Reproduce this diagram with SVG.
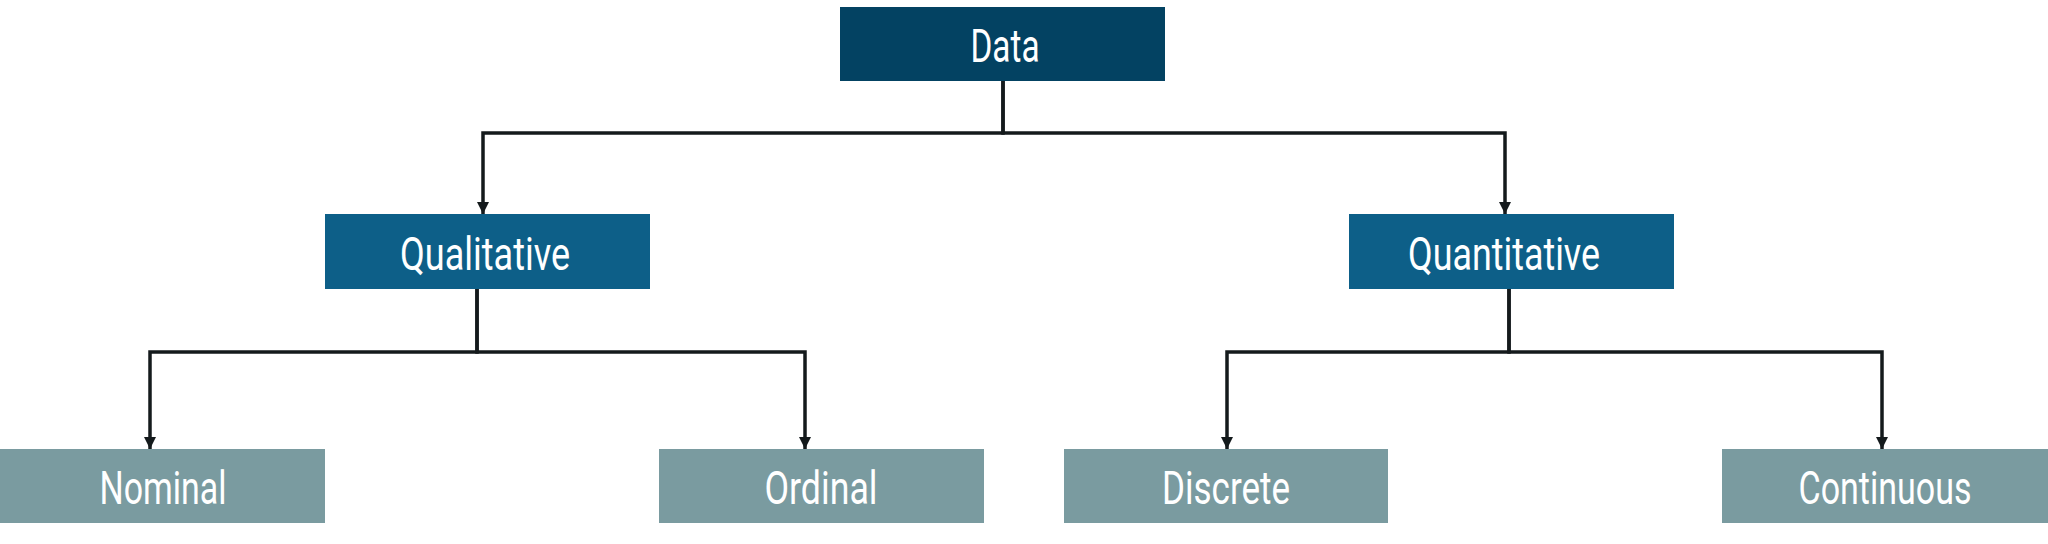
<svg xmlns="http://www.w3.org/2000/svg" width="2048" height="544" viewBox="0 0 2048 544">
<style>
.t{font-family:"Roboto","Liberation Sans",sans-serif;font-size:46px;fill:#ffffff;text-anchor:middle}
.c{fill:none;stroke:#141a1c;stroke-width:3.5}
.l0{fill:#034262}
.l1{fill:#0d5f88}
.l2{fill:#7a9ba0}
</style>
<defs>
<marker id="ah" viewBox="0 0 10 10" refX="10" refY="5" markerWidth="12" markerHeight="12" markerUnits="userSpaceOnUse" orient="auto">
<path d="M0 0L10 5L0 10z" fill="#141a1c"/>
</marker>
</defs>
<rect width="2048" height="544" fill="#ffffff"/>
<g id="connectors">
<path class="c" d="M1003 81V133H483V214" marker-end="url(#ah)"/>
<path class="c" d="M1003 81V133H1505V214" marker-end="url(#ah)"/>
<path class="c" d="M477 289V352H150V449" marker-end="url(#ah)"/>
<path class="c" d="M477 289V352H805V449" marker-end="url(#ah)"/>
<path class="c" d="M1509 289V352H1227V449" marker-end="url(#ah)"/>
<path class="c" d="M1509 289V352H1882V449" marker-end="url(#ah)"/>
</g>
<g id="data">
<rect class="l0" x="840" y="7" width="325" height="74"/>
<text class="t" x="1005" y="62" textLength="69" lengthAdjust="spacingAndGlyphs">Data</text>
</g>
<g id="qualitative">
<rect class="l1" x="325" y="214" width="325" height="75"/>
<text class="t" x="485" y="270" textLength="170" lengthAdjust="spacingAndGlyphs">Qualitative</text>
</g>
<g id="quantitative">
<rect class="l1" x="1349" y="214" width="325" height="75"/>
<text class="t" x="1504" y="270" textLength="192" lengthAdjust="spacingAndGlyphs">Quantitative</text>
</g>
<g id="nominal">
<rect class="l2" x="0" y="449" width="325" height="74"/>
<text class="t" x="163" y="504" textLength="127" lengthAdjust="spacingAndGlyphs">Nominal</text>
</g>
<g id="ordinal">
<rect class="l2" x="659" y="449" width="325" height="74"/>
<text class="t" x="821" y="504" textLength="113" lengthAdjust="spacingAndGlyphs">Ordinal</text>
</g>
<g id="discrete">
<rect class="l2" x="1064" y="449" width="324" height="74"/>
<text class="t" x="1226" y="504" textLength="128" lengthAdjust="spacingAndGlyphs">Discrete</text>
</g>
<g id="continuous">
<rect class="l2" x="1722" y="449" width="326" height="74"/>
<text class="t" x="1885" y="504" textLength="173" lengthAdjust="spacingAndGlyphs">Continuous</text>
</g>
</svg>
